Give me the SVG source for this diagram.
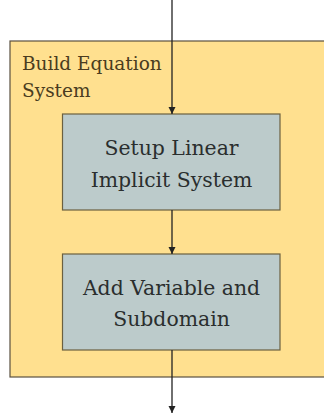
<svg xmlns="http://www.w3.org/2000/svg" width="324" height="414" viewBox="0 0 324 414">
<defs>
<style>
.cluster{fill:#ffe08f;stroke:#5a5040;stroke-width:1.2}
.node{fill:#bccbcb;stroke:#6b6040;stroke-width:1.2}
.lbl{font-family:"DejaVu Serif",serif;font-size:20.4px;fill:#2a2e2e;text-anchor:middle}
.title{font-family:"DejaVu Serif",serif;font-size:18.5px;fill:#4a3c20}
.edge{stroke:#222;stroke-width:1.3;fill:none;marker-end:url(#ah)}
</style>
<marker id="ah" markerWidth="8" markerHeight="8" refX="7" refY="4" orient="auto" markerUnits="userSpaceOnUse">
<path d="M0,0.5 L7,4 L0,7.5 Z" fill="#222"/>
</marker>
</defs>
<rect width="324" height="414" fill="#ffffff"/>
<g id="cluster_build">
<rect class="cluster" x="10" y="41" width="320" height="336"/>
<text class="title" x="22" y="70">Build Equation</text>
<text class="title" x="22" y="97">System</text>
</g>
<g id="node_setup">
<rect class="node" x="62.5" y="114" width="217.5" height="96"/>
<text class="lbl" x="171.5" y="155">Setup Linear</text>
<text class="lbl" x="171.5" y="187">Implicit System</text>
</g>
<g id="node_add">
<rect class="node" x="62.5" y="254" width="217.5" height="96"/>
<text class="lbl" x="171.5" y="295">Add Variable and</text>
<text class="lbl" x="171.5" y="326">Subdomain</text>
</g>
<g id="edges">
<path class="edge" d="M172,0 V114"/>
<path class="edge" d="M172,210 V254"/>
<path class="edge" d="M172,350 V413"/>
</g>
</svg>
